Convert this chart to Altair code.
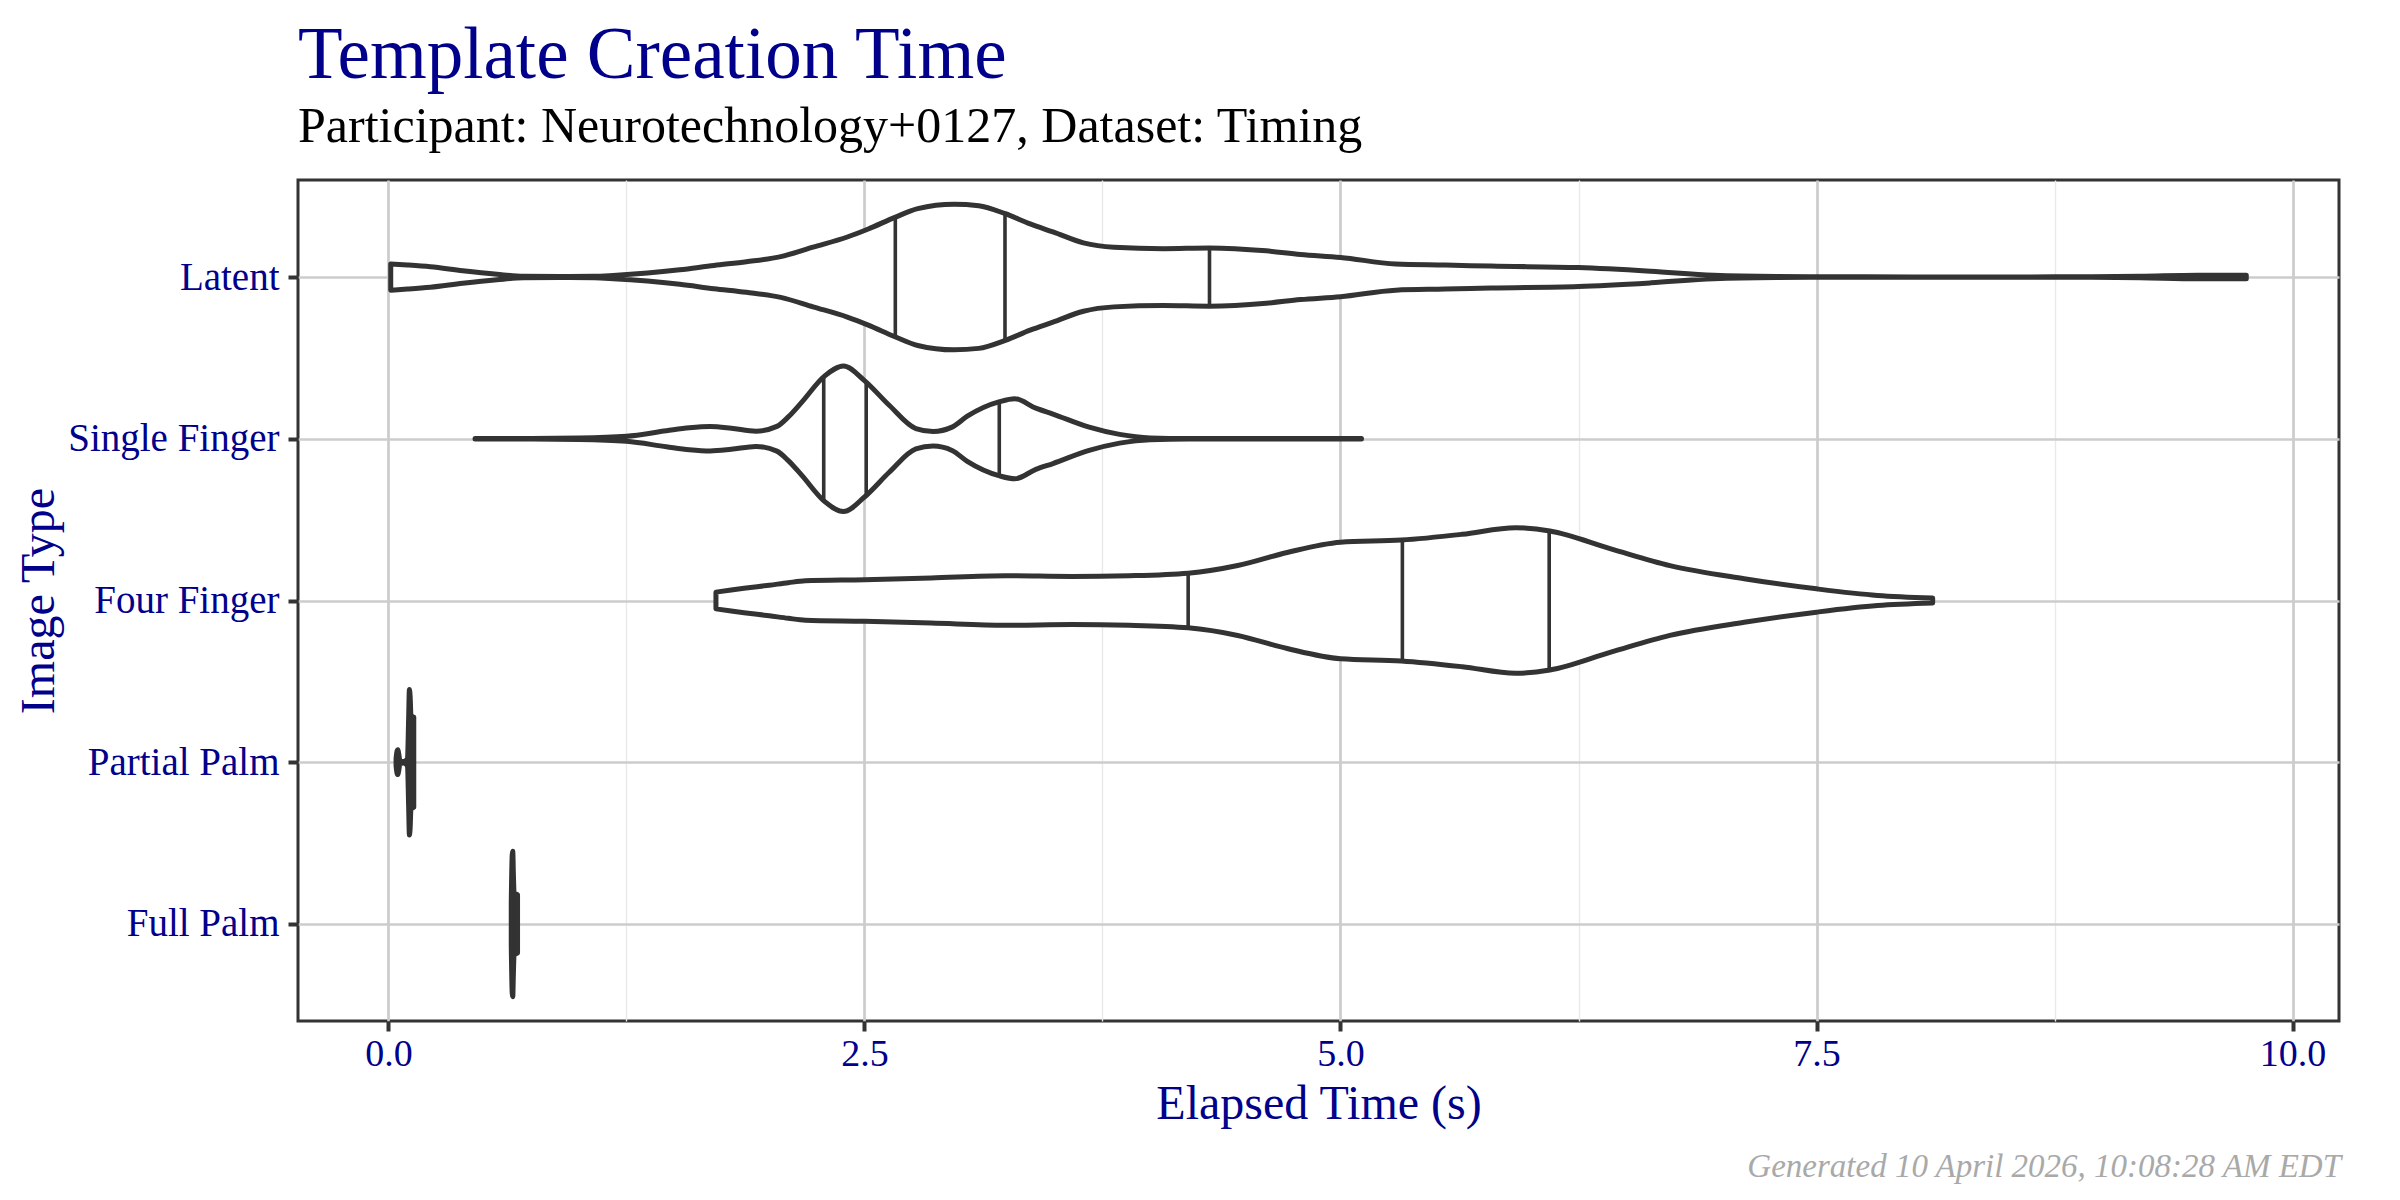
import altair as alt
import pandas as pd

# --- data ---
categories = ["Latent", "Single Finger", "Four Finger", "Partial Palm", "Full Palm"]

# violin outlines: elapsed time (s) and relative half-width (1 = widest)
latent_x = [0.012, 0.10, 0.22, 0.39, 0.57, 0.71, 0.90, 1.08, 1.18, 1.36, 1.53, 1.71, 1.88,
            2.06, 2.23, 2.41, 2.52, 2.66, 2.78, 2.97, 3.10, 3.24, 3.37, 3.49, 3.65, 3.81,
            4.07, 4.31, 4.61, 4.79, 5.00, 5.29, 5.55, 5.79, 6.25, 6.63, 6.96, 7.29, 7.60,
            8.00, 8.50, 8.90, 9.20, 9.50, 9.757]
latent_w = [0.18, 0.165, 0.14, 0.085, 0.037, 0.01, 0.006, 0.01, 0.022, 0.055, 0.10, 0.16, 0.21,
            0.28, 0.41, 0.55, 0.66, 0.82, 0.94, 1.00, 0.98, 0.87, 0.73, 0.62, 0.47, 0.41,
            0.39, 0.40, 0.36, 0.31, 0.27, 0.18, 0.165, 0.15, 0.13, 0.08, 0.023, 0.006, 0.003,
            0.002, 0.002, 0.003, 0.01, 0.025, 0.025]

single_x = [0.455, 0.69, 1.00, 1.25, 1.46, 1.58, 1.69, 1.80, 1.93, 2.04, 2.10, 2.17, 2.29,
            2.39, 2.50, 2.63, 2.77, 2.86, 2.96, 3.04, 3.21, 3.29, 3.40, 3.49, 3.68, 3.84,
            4.00, 4.20, 5.11]
single_w = [0.003, 0.003, 0.01, 0.035, 0.11, 0.15, 0.167, 0.145, 0.105, 0.17, 0.30, 0.50, 0.86,
            1.00, 0.80, 0.46, 0.14, 0.10, 0.16, 0.31, 0.51, 0.55, 0.42, 0.34, 0.16, 0.06,
            0.012, 0.003, 0.003]

four_x = [1.72, 1.80, 1.89, 2.00, 2.10, 2.19, 2.50, 2.85, 3.24, 3.59, 3.89, 4.20, 4.46, 4.72,
          5.00, 5.32, 5.64, 5.92, 6.10, 6.42, 6.73, 7.12, 7.50, 7.82, 8.11]
four_w = [0.115, 0.145, 0.175, 0.21, 0.245, 0.27, 0.285, 0.31, 0.34, 0.33, 0.34, 0.375, 0.48,
          0.66, 0.80, 0.83, 0.91, 1.00, 0.955, 0.71, 0.48, 0.30, 0.16, 0.07, 0.035]

partial_x = [0.040, 0.045, 0.050, 0.055, 0.060, 0.080, 0.100, 0.106, 0.110, 0.114, 0.118,
             0.125, 0.133]
partial_w = [0.05, 0.15, 0.17, 0.10, 0.02, 0.01, 0.05, 0.60, 1.00, 0.90, 0.65, 0.63, 0.62]

full_x = [0.645, 0.650, 0.653, 0.656, 0.660, 0.670, 0.678]
full_w = [0.30, 0.95, 1.00, 0.70, 0.42, 0.41, 0.40]

# quartile lines (25 %, 50 %, 75 %) and the half-width there
quart_x = [[2.662, 3.238, 4.312], [2.286, 2.509, 3.208], [4.20, 5.325, 6.096],
           [0.108, 0.113, 0.125], [0.652, 0.660, 0.672]]
quart_w = [[0.82, 0.87, 0.40], [0.86, 0.79, 0.50], [0.375, 0.83, 0.955],
           [0.85, 0.90, 0.63], [1.00, 0.42, 0.41]]

x_ticks = [0, 1.25, 2.5, 3.75, 5, 6.25, 7.5, 8.75, 10]
caption = "Generated 10 April 2026, 10:08:28 AM EDT"

# --- tables ---
outline_x = [latent_x, single_x, four_x, partial_x, full_x]
outline_w = [latent_w, single_w, four_w, partial_w, full_w]

rows = []
for i, cat in enumerate(categories):
    for x, w in zip(outline_x[i], outline_w[i]):
        rows.append({"Image Type": cat, "idx": i, "time": x, "width": w})
violins = pd.DataFrame(rows)

qrows = []
for i, cat in enumerate(categories):
    for x, w in zip(quart_x[i], quart_w[i]):
        qrows.append({"Image Type": cat, "idx": i, "time": x, "width": w})
quarts = pd.DataFrame(qrows)

FONT = "Liberation Serif"
BLUE = "#00008B"
major = "datum.value % 2.5 == 0"
cat_expr = "[" + ",".join("'%s'" % c for c in categories) + "][datum.value]"

x_enc = alt.X(
    "time:Q",
    scale=alt.Scale(domain=[-0.475, 10.244], nice=False, zero=False),
    axis=alt.Axis(
        values=x_ticks, title="Elapsed Time (s)", domain=False,
        labelExpr=major + " ? format(datum.value, '.1f') : ''",
        labelFont=FONT, labelFontSize=38, labelColor=BLUE, labelPadding=4,
        labelFlush=False, labelOverlap=False,
        tickColor="#333333", tickWidth=4, tickSize=10,
        tickOpacity={"condition": {"test": major, "value": 1}, "value": 0},
        gridColor={"condition": {"test": major, "value": "#cccccc"}, "value": "#e9e9e9"},
        gridWidth={"condition": {"test": major, "value": 2.7}, "value": 1.4},
        titleFont=FONT, titleFontSize=48, titleFontWeight="normal", titleColor=BLUE,
        titlePadding=7,
    ),
)
y_enc = alt.Y(
    "lo:Q",
    scale=alt.Scale(domain=[-0.6, 4.6], nice=False, zero=False, reverse=True),
    axis=alt.Axis(
        values=list(range(len(categories))), title="Image Type", domain=False,
        labelExpr=cat_expr, labelFont=FONT, labelFontSize=39, labelColor=BLUE,
        labelPadding=9, labelOverlap=False, labelLimit=0,
        tickColor="#333333", tickWidth=4, tickSize=10,
        gridColor="#cccccc", gridWidth=2.7,
        titleFont=FONT, titleFontSize=48, titleFontWeight="normal", titleColor=BLUE,
        titleAngle=270, titleBaseline="bottom", titleAlign="center",
        titleX=-235, titleY=420.5,
    ),
)

half = "datum.idx - 0.45 * datum.width"
half2 = "datum.idx + 0.45 * datum.width"

violin = alt.Chart(violins).transform_calculate(lo=half, hi=half2).mark_area(
    orient="vertical", interpolate="monotone", fill="white",
    stroke="#333333", strokeWidth=5, strokeJoin="round"
).encode(x=x_enc, y=y_enc, y2="hi:Q", detail="Image Type:N")

lines = alt.Chart(quarts).transform_calculate(lo=half, hi=half2).mark_rule(
    color="#333333", strokeWidth=3.6
).encode(x=x_enc, y=y_enc, y2="hi:Q")

note = alt.Chart(pd.DataFrame({"text": [caption]})).mark_text(
    align="right", baseline="alphabetic", font=FONT, fontSize=33,
    fontStyle="italic", color="#a9a9a9"
).encode(x=alt.value(2043), y=alt.value(997), text="text:N")

chart = alt.layer(violin, lines, note).properties(
    width=2041, height=841,
    title=alt.TitleParams(
        text="Template Creation Time",
        subtitle="Participant: Neurotechnology+0127, Dataset: Timing",
        anchor="start", frame="group", font=FONT, fontSize=73, fontWeight="normal",
        color=BLUE, subtitleFont=FONT, subtitleFontSize=50, subtitleColor="black",
        subtitlePadding=9, offset=28,
    ),
    autosize=alt.AutoSizeParams(type="none"),
    padding={"left": 290, "top": 172, "right": 53, "bottom": 171},
).configure_view(stroke="#333333", strokeWidth=3)

chart.save("out.html", embed_options={"renderer": "svg", "actions": False})
